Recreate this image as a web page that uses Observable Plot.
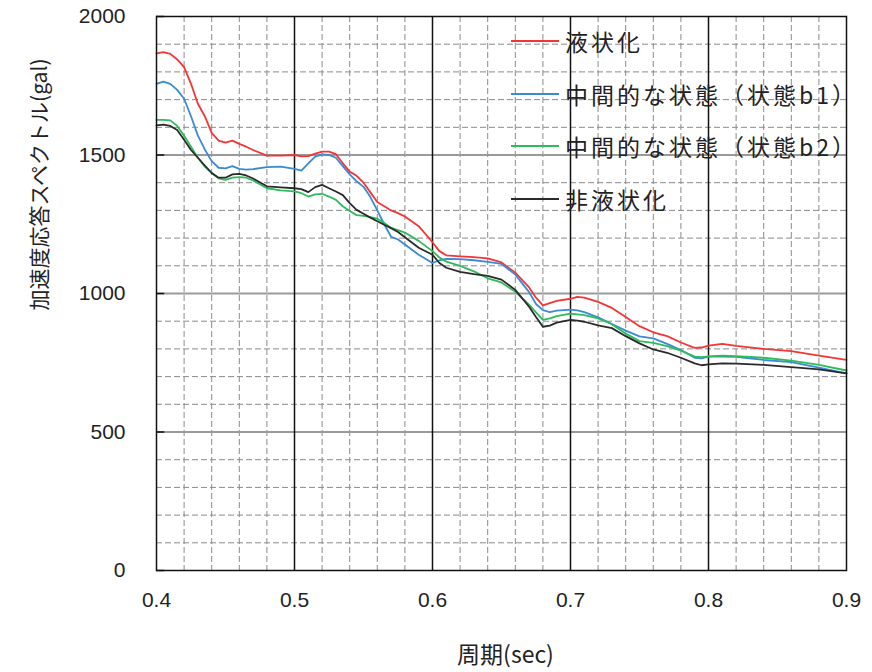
<!DOCTYPE html>
<html><head><meta charset="utf-8">
<script src="https://cdn.jsdelivr.net/npm/d3@7"></script>
<script src="https://cdn.jsdelivr.net/npm/@observablehq/plot@0.6"></script>
<style>
body{margin:0;background:#fff;}
#wrap{position:relative;width:872px;height:672px;}
#legend{position:absolute;left:511px;top:0;font-family:"Noto Sans CJK JP",sans-serif;font-size:23px;letter-spacing:3px;color:#222;}
#legend .row{position:absolute;left:0;display:flex;align-items:center;white-space:nowrap;height:30px;}
#legend .sw{width:48px;height:2px;margin-right:6px;}
</style></head>
<body><div id="wrap"><div id="legend"></div></div>
<script>
const periods = [0.400,0.405,0.410,0.415,0.420,0.425,0.430,0.435,0.440,0.445,0.450,0.455,0.460,0.465,0.470,0.480,0.490,0.500,0.505,0.510,0.515,0.520,0.525,0.530,0.535,0.540,0.545,0.550,0.555,0.560,0.565,0.570,0.575,0.580,0.590,0.600,0.605,0.610,0.620,0.630,0.640,0.650,0.660,0.670,0.675,0.680,0.685,0.690,0.700,0.705,0.710,0.720,0.730,0.740,0.750,0.760,0.770,0.780,0.790,0.795,0.800,0.810,0.820,0.840,0.860,0.880,0.900];
const liquefied = [1867,1871,1865,1845,1817,1757,1685,1640,1580,1552,1545,1552,1540,1530,1518,1498,1498,1500,1495,1496,1505,1512,1512,1503,1470,1440,1425,1400,1365,1330,1315,1300,1290,1278,1243,1185,1153,1138,1134,1131,1127,1112,1075,1022,985,957,965,973,981,988,985,970,948,915,882,860,846,823,804,805,812,818,811,800,792,776,760];
const stateB1 = [1757,1765,1757,1735,1703,1640,1570,1520,1478,1454,1452,1460,1450,1447,1449,1456,1458,1450,1444,1470,1494,1502,1500,1490,1460,1430,1405,1385,1348,1300,1250,1205,1195,1177,1140,1110,1120,1125,1124,1120,1114,1107,1068,1005,962,940,933,938,942,939,933,914,890,866,845,838,818,796,768,766,772,772,771,760,752,732,712];
const stateB2 = [1627,1627,1625,1605,1570,1530,1490,1458,1435,1416,1410,1418,1420,1418,1408,1380,1372,1369,1362,1350,1358,1360,1350,1338,1315,1298,1283,1280,1276,1270,1255,1237,1229,1220,1190,1153,1130,1115,1100,1080,1055,1040,1006,960,932,905,910,918,927,925,922,910,889,855,828,822,810,794,772,770,773,776,774,768,758,742,722];
const nonLiquefied = [1607,1610,1605,1590,1555,1518,1490,1462,1435,1418,1418,1430,1432,1426,1415,1387,1383,1380,1377,1366,1384,1392,1380,1368,1355,1326,1302,1288,1274,1261,1248,1236,1222,1203,1165,1140,1110,1093,1078,1070,1064,1050,1013,952,915,880,884,895,905,902,898,885,875,846,820,798,786,768,748,741,744,748,747,742,734,726,712];

const seriesNames = ["液状化","中間的な状態（状態b1）","中間的な状態（状態b2）","非液状化"];
const seriesColors = ["#f53535","#3a8ad6","#2dbb5c","#2a2a2a"];
const seriesValues = [liquefied, stateB1, stateB2, nonLiquefied];

const xTicks = [0.4,0.5,0.6,0.7,0.8,0.9];
const xMajorGrid = [0.5,0.6,0.7,0.8];
const xMinorGrid = [0.42,0.44,0.46,0.48,0.52,0.54,0.56,0.58,0.62,0.64,0.66,0.68,0.72,0.74,0.76,0.78,0.82,0.84,0.86,0.88];
const yTicks = [0,500,1000,1500,2000];
const yMajorGrid = [500,1000,1500];
const yMinorGrid = [100,200,300,400,600,700,800,900,1100,1200,1300,1400,1600,1700,1800,1900];
const xLabel = "周期(sec)";
const yLabel = "加速度応答スペクトル(gal)";

const data = [];
seriesNames.forEach((name, i) => {
  periods.forEach((p, j) => data.push({period: p, value: seriesValues[i][j], series: name}));
});

const xDomain = [0.4, 0.9];
const tickLen = 0.006;
const font = '"Liberation Sans", Arial, sans-serif';
const cjk = '"Noto Sans CJK JP", sans-serif';

const chart = Plot.plot({
  width: 872, height: 672,
  marginLeft: 156, marginRight: 26, marginTop: 16, marginBottom: 102,
  style: {fontFamily: font, background: "#fff", color: "#222"},
  x: {domain: xDomain, ticks: xTicks, label: null},
  y: {domain: [0, 2000], ticks: yTicks, label: null},
  color: {domain: seriesNames, range: seriesColors},
  marks: [
    Plot.ruleY(yMinorGrid, {stroke: "#8a8a8a", strokeWidth: 1, strokeDasharray: "6,3"}),
    Plot.ruleX(xMinorGrid, {stroke: "#8a8a8a", strokeWidth: 1, strokeDasharray: "6,3"}),
    Plot.ruleY(yMajorGrid, {stroke: "#9a9a9a", strokeWidth: 2}),
    Plot.ruleX(xMajorGrid, {stroke: "#111", strokeWidth: 1.5}),
    Plot.ruleY(yTicks, {x1: xDomain[0], x2: xDomain[0] + tickLen, stroke: "#111", strokeWidth: 1.5}),
    Plot.line(data, {x: "period", y: "value", z: "series", stroke: "series", strokeWidth: 1.8}),
    Plot.frame({stroke: "#111", strokeWidth: 1.5}),
    Plot.axisX({ticks: xTicks, tickSize: 0, tickPadding: 22, fontSize: 21, tickFormat: d3.format(".1f")}),
    Plot.axisY({ticks: yTicks, tickSize: 0, tickPadding: 31, fontSize: 21, tickFormat: d => String(d)}),
    Plot.text([xLabel], {text: d => d, frameAnchor: "bottom", dy: 85, dx: 4, fontSize: 23, fontFamily: cjk, lineAnchor: "middle", fill: "#222"}),
    Plot.text([yLabel], {text: d => d, frameAnchor: "left", dx: -116, dy: 17, rotate: -90, fontSize: 21, fontFamily: cjk, lineAnchor: "middle", fill: "#222"})
  ]
});
const wrap = document.getElementById("wrap");
wrap.insertBefore(chart, wrap.firstChild);

const legendRows = [41, 94, 146, 199];
const legend = document.getElementById("legend");
seriesNames.forEach((name, i) => {
  const row = document.createElement("div");
  row.className = "row";
  row.style.top = (legendRows[i] - 15) + "px";
  const sw = document.createElement("span");
  sw.className = "sw";
  sw.style.background = seriesColors[i];
  const t = document.createElement("span");
  t.textContent = name;
  row.appendChild(sw); row.appendChild(t);
  legend.appendChild(row);
});
</script></body></html>
